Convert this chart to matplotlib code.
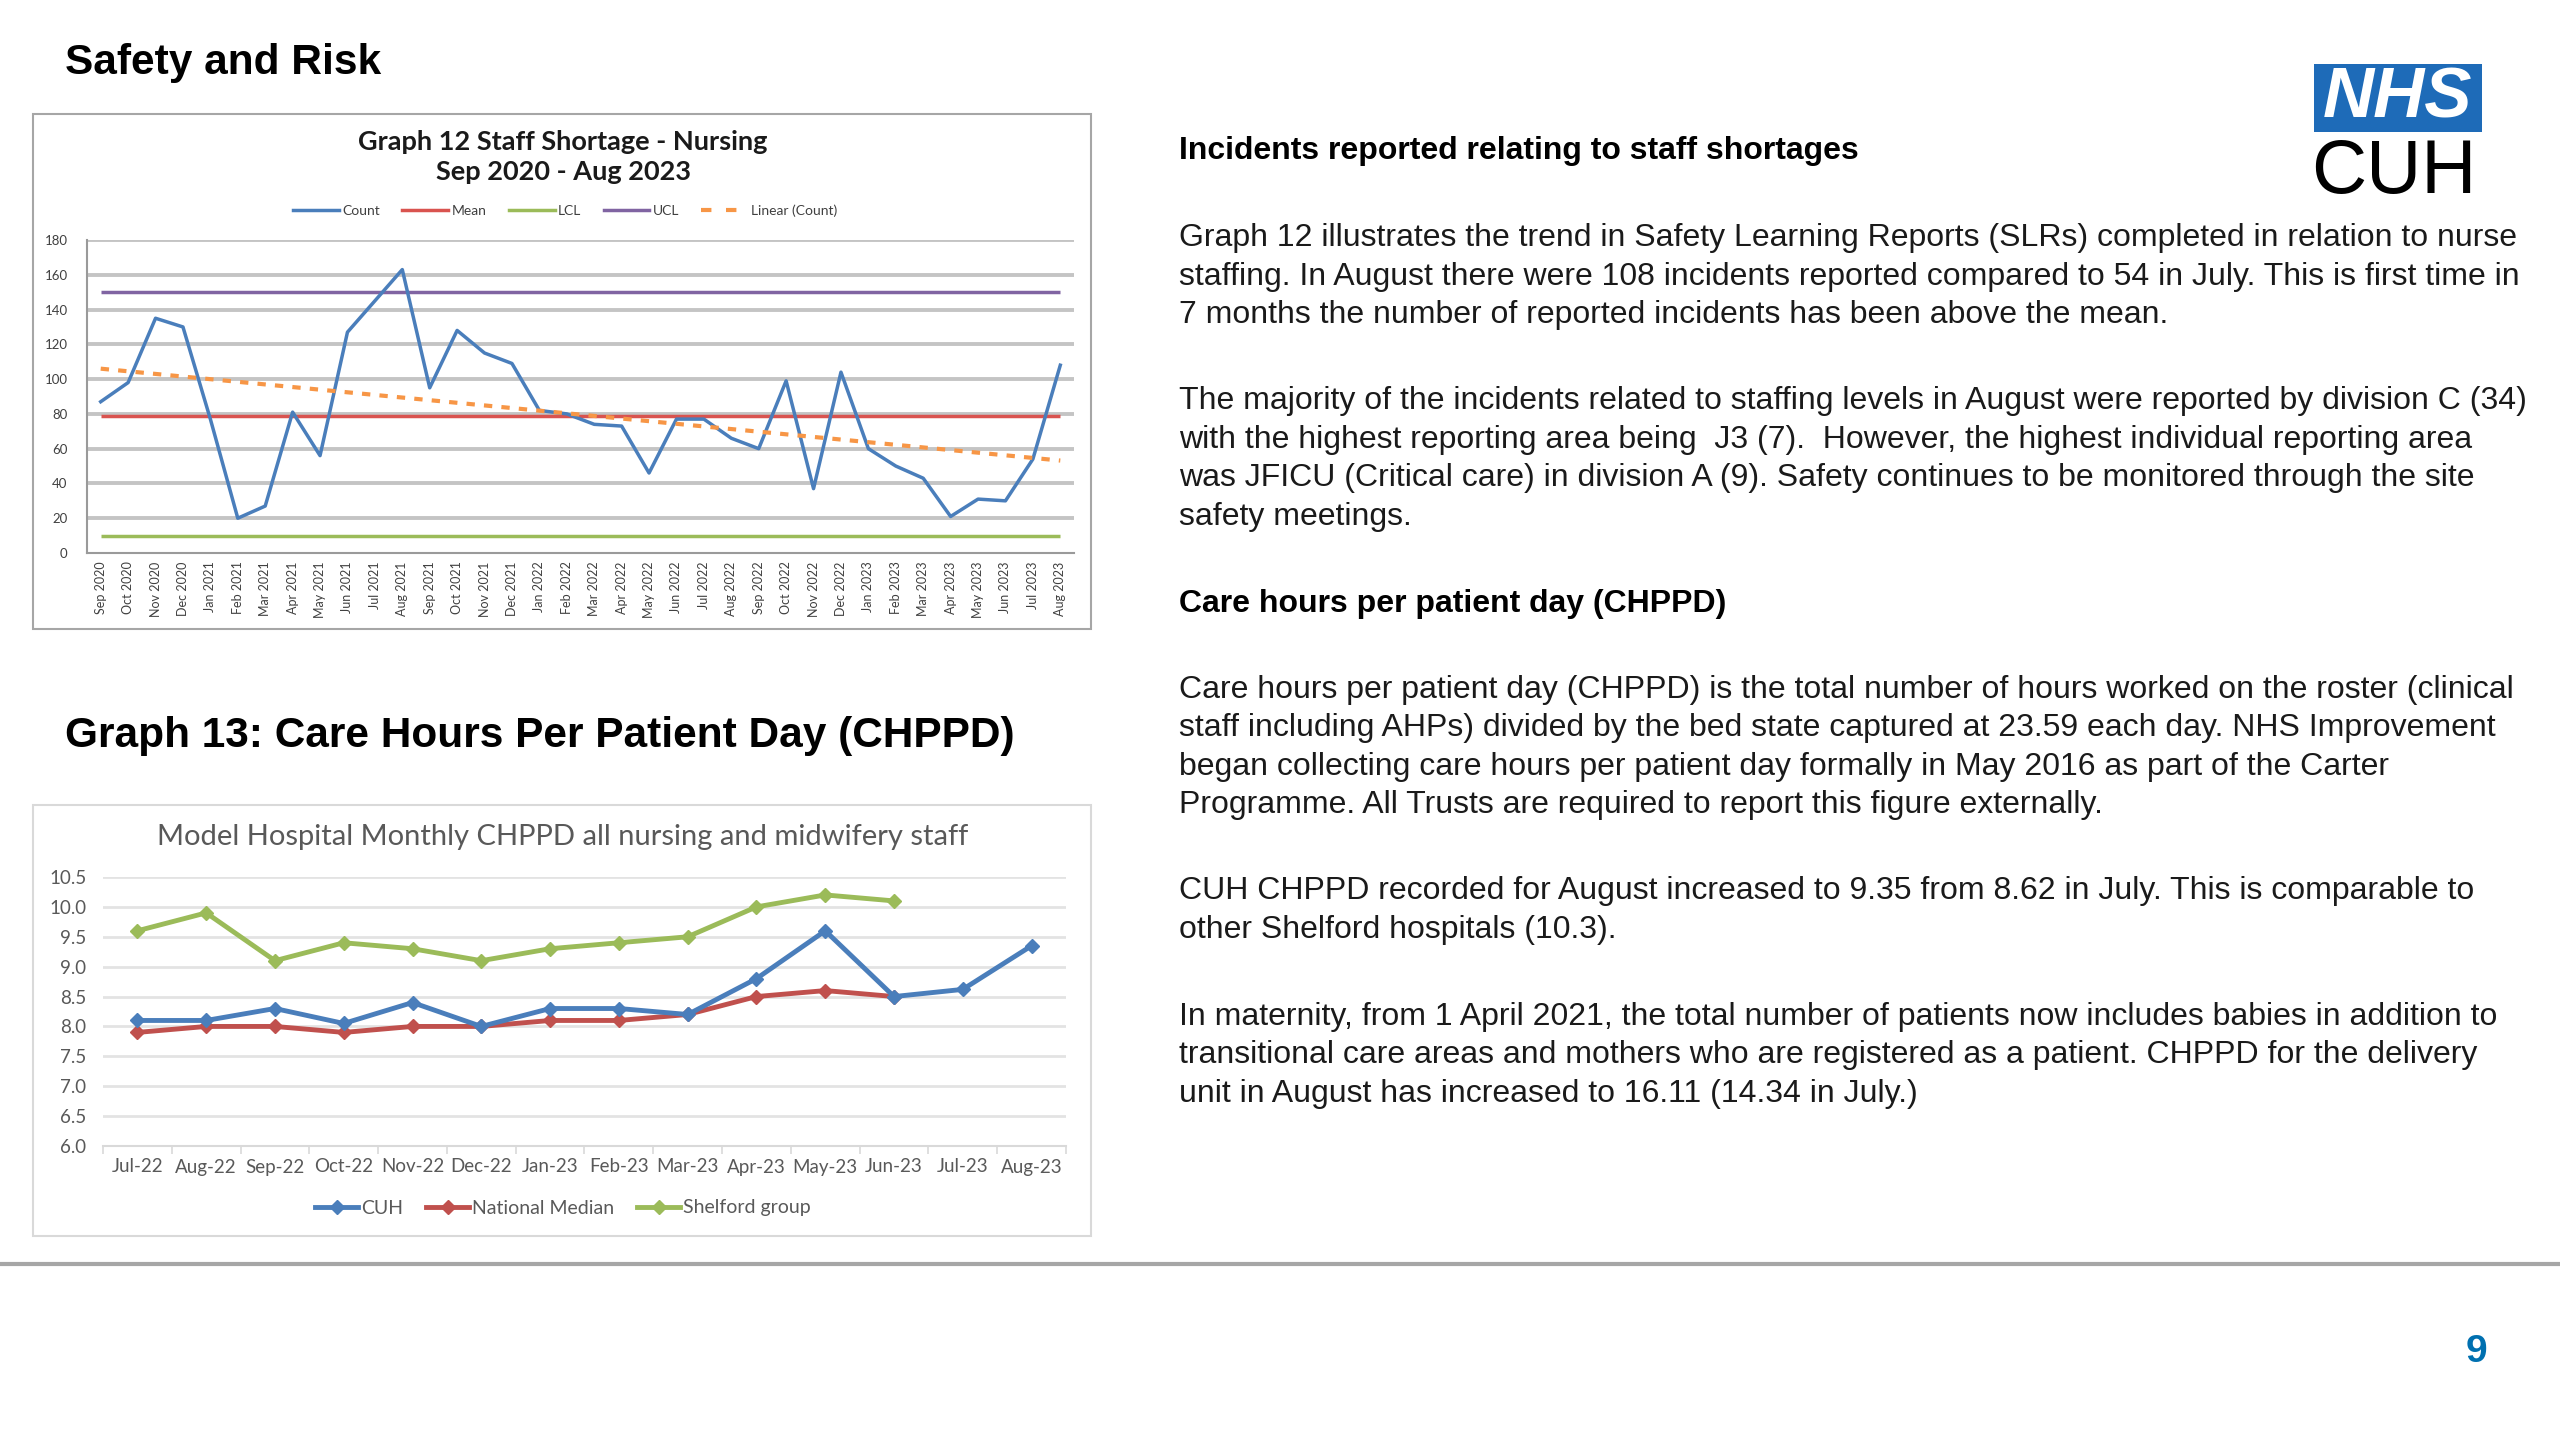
import numpy as np
import matplotlib
matplotlib.use("Agg")
import matplotlib.pyplot as plt
from matplotlib.patches import Rectangle
from matplotlib.lines import Line2D

# ---------------- data ----------------
months12 = ["Sep 2020", "Oct 2020", "Nov 2020", "Dec 2020", "Jan 2021", "Feb 2021", "Mar 2021",
            "Apr 2021", "May 2021", "Jun 2021", "Jul 2021", "Aug 2021", "Sep 2021", "Oct 2021",
            "Nov 2021", "Dec 2021", "Jan 2022", "Feb 2022", "Mar 2022", "Apr 2022", "May 2022",
            "Jun 2022", "Jul 2022", "Aug 2022", "Sep 2022", "Oct 2022", "Nov 2022", "Dec 2022",
            "Jan 2023", "Feb 2023", "Mar 2023", "Apr 2023", "May 2023", "Jun 2023", "Jul 2023",
            "Aug 2023"]
count = [87, 98, 135, 130, 77, 20, 27, 81, 56, 127, 145, 163,
         95, 128, 115, 109, 82, 80, 74, 73, 46, 77, 77, 66,
         60, 99, 37, 104, 60, 50, 43, 21, 31, 30, 54, 108]
mean_val = 79
ucl_val = 150
lcl_val = 10
yticks12 = [0, 20, 40, 60, 80, 100, 120, 140, 160, 180]

months13 = ["Jul-22", "Aug-22", "Sep-22", "Oct-22", "Nov-22", "Dec-22", "Jan-23",
            "Feb-23", "Mar-23", "Apr-23", "May-23", "Jun-23", "Jul-23", "Aug-23"]
cuh = [8.1, 8.1, 8.3, 8.05, 8.4, 8.0, 8.3, 8.3, 8.2, 8.8, 9.6, 8.5, 8.62, 9.35]
national_median = [7.9, 8.0, 8.0, 7.9, 8.0, 8.0, 8.1, 8.1, 8.2, 8.5, 8.6, 8.5]
shelford = [9.6, 9.9, 9.1, 9.4, 9.3, 9.1, 9.3, 9.4, 9.5, 10.0, 10.2, 10.1]
yticks13 = [6.0, 6.5, 7.0, 7.5, 8.0, 8.5, 9.0, 9.5, 10.0, 10.5]

# ---------------- figure ----------------
W, H = 2560, 1440
fig = plt.figure(figsize=(W / 100, H / 100), dpi=100)
fig.patch.set_facecolor("white")

def fx(x):
    return x / W

def fy(y):
    return 1 - y / H

def axes_px(l, t, r, b):
    return fig.add_axes([fx(l), fy(b), (r - l) / W, (b - t) / H])

SANS = ["Liberation Sans", "DejaVu Sans"]
NARROW = ["Liberation Sans Narrow", "Liberation Sans", "DejaVu Sans"]
CHART = ["Lato", "DejaVu Sans"]

# page headings
fig.text(fx(65), fy(63), "Safety and Risk", family=SANS, weight="bold", fontsize=30.5,
         ha="left", va="center", color="black")
fig.text(fx(65), fy(736), "Graph 13: Care Hours Per Patient Day (CHPPD)", family=SANS,
         weight="bold", fontsize=30.5, ha="left", va="center", color="black")

# ---------------- Graph 12 ----------------
fig.add_artist(Rectangle((fx(33), fy(629)), (1091 - 33) / W, (629 - 114) / H,
                         transform=fig.transFigure, fill=False, edgecolor="#A6A6A6", lw=1.5))
fig.text(fx(563), fy(157), "Graph 12 Staff Shortage - Nursing\nSep 2020 - Aug 2023",
         family=CHART, weight="bold", fontsize=19.5, ha="center", va="center",
         color="#1a1a1a", linespacing=1.25)

ax = axes_px(87, 240, 1074, 553)
x12 = np.arange(len(count))
for v in yticks12[1:]:
    ax.axhline(v, color="#C4C4C4", lw=2.8, zorder=1)
ax.plot(x12, count, color="#4A7EBB", lw=2.5, zorder=4, label="Count")
ax.hlines(mean_val, x12[0], x12[-1], color="#D9534F", lw=2.5, zorder=3, label="Mean")
ax.hlines(lcl_val, x12[0], x12[-1], color="#9BBB59", lw=2.5, zorder=3, label="LCL")
ax.hlines(ucl_val, x12[0], x12[-1], color="#8064A2", lw=2.5, zorder=3, label="UCL")
coef = np.polyfit(x12, count, 1)
trend = np.polyval(coef, x12)
ax.plot(x12, trend, color="#F79646", lw=3, ls=(0, (2, 2.2)), zorder=5, label="Linear (Count)")
ax.set_xlim(-0.5, len(count) - 0.5)
ax.set_ylim(0, 180)
ax.set_yticks(yticks12)
ax.set_yticklabels([str(v) for v in yticks12], family=CHART, fontsize=9.5, color="#404040")
ax.set_xticks(x12)
ax.set_xticklabels(months12, rotation=90, family=CHART, fontsize=9, color="#404040")
ax.tick_params(axis="y", length=0, pad=14)
ax.tick_params(axis="x", length=0, pad=6)
for s in ["top", "right"]:
    ax.spines[s].set_visible(False)
for s in ["left", "bottom"]:
    ax.spines[s].set_color("#9A9A9A")
    ax.spines[s].set_linewidth(1.5)
ax.set_facecolor("white")

handles12 = [Line2D([], [], color="#4A7EBB", lw=2.5),
             Line2D([], [], color="#D9534F", lw=2.5),
             Line2D([], [], color="#9BBB59", lw=2.5),
             Line2D([], [], color="#8064A2", lw=2.5),
             Line2D([], [], color="#F79646", lw=3, ls=(0, (2.5, 3.5)))]
fig.legend(handles12, ["Count", "Mean", "LCL", "UCL", "Linear (Count)"],
           loc="center", bbox_to_anchor=(fx(565), fy(211)), ncol=5, frameon=False,
           prop={"family": CHART, "size": 10}, handlelength=3.3, columnspacing=1.6,
           handletextpad=0.25, labelcolor="#404040")

# ---------------- Graph 13 ----------------
fig.add_artist(Rectangle((fx(33), fy(1236)), (1091 - 33) / W, (1236 - 805) / H,
                         transform=fig.transFigure, fill=False, edgecolor="#D9D9D9", lw=1.5))
fig.text(fx(563), fy(837), "Model Hospital Monthly CHPPD all nursing and midwifery staff",
         family=CHART, fontsize=21, ha="center", va="center", color="#595959")

ax2 = axes_px(103, 877, 1066, 1146)
x13 = np.arange(len(months13))
for v in yticks13[1:]:
    ax2.axhline(v, color="#E3E3E3", lw=2, zorder=1)
blue, red, green = "#4A7EBB", "#C0504D", "#9BBB59"
ax2.plot(x13[:len(cuh)], cuh, color=blue, lw=3.5, marker="D", ms=7, zorder=4)
ax2.plot(x13[:len(national_median)], national_median, color=red, lw=3.5, marker="D", ms=7,
         zorder=3)
ax2.plot(x13[:len(shelford)], shelford, color=green, lw=3.5, marker="D", ms=7, zorder=3)
ax2.set_xlim(-0.5, len(months13) - 0.5)
ax2.set_ylim(6.0, 10.5)
ax2.set_yticks(yticks13)
ax2.set_yticklabels([f"{v:.1f}" for v in yticks13], family=CHART, fontsize=13.5,
                    color="#595959")
ax2.set_xticks(x13)
ax2.set_xticklabels(months13, family=CHART, fontsize=13.5, color="#595959")
ax2.set_xticks(np.arange(-0.5, len(months13)), minor=True)
ax2.tick_params(axis="y", length=0, pad=12)
ax2.tick_params(axis="x", which="major", length=0, pad=9)
ax2.tick_params(axis="x", which="minor", length=6, color="#D9D9D9", width=1.2)
for s in ["top", "right", "left"]:
    ax2.spines[s].set_visible(False)
ax2.spines["bottom"].set_color("#D9D9D9")
ax2.spines["bottom"].set_linewidth(1.5)

handles13 = [Line2D([], [], color=blue, lw=3.5, marker="D", ms=7),
             Line2D([], [], color=red, lw=3.5, marker="D", ms=7),
             Line2D([], [], color=green, lw=3.5, marker="D", ms=7)]
fig.legend(handles13, ["CUH", "National Median", "Shelford group"], loc="center",
           bbox_to_anchor=(fx(563), fy(1208)), ncol=3, frameon=False,
           prop={"family": CHART, "size": 14}, handlelength=2.2, columnspacing=1.2,
           handletextpad=0.15, labelcolor="#595959")

# ---------------- right-hand text ----------------
TX = 1179
DY = 3
heads = [(148, "Incidents reported relating to staff shortages"),
         (601, "Care hours per patient day (CHPPD)")]
for y, t in heads:
    fig.text(fx(TX), fy(y + DY), t, family=SANS, weight="bold", fontsize=23, ha="left",
             va="center", color="black")

body = [
    (235, "Graph 12 illustrates the trend in Safety Learning Reports (SLRs) completed in relation to nurse"),
    (274, "staffing. In August there were 108 incidents reported compared to 54 in July. This is first time in"),
    (312, "7 months the number of reported incidents has been above the mean."),
    (398, "The majority of the incidents related to staffing levels in August were reported by division C (34)"),
    (437, "with the highest reporting area being  J3 (7).  However, the highest individual reporting area"),
    (475, "was JFICU (Critical care) in division A (9). Safety continues to be monitored through the site"),
    (514, "safety meetings."),
    (687, "Care hours per patient day (CHPPD) is the total number of hours worked on the roster (clinical"),
    (725, "staff including AHPs) divided by the bed state captured at 23.59 each day. NHS Improvement"),
    (764, "began collecting care hours per patient day formally in May 2016 as part of the Carter"),
    (802, "Programme. All Trusts are required to report this figure externally."),
    (888, "CUH CHPPD recorded for August increased to 9.35 from 8.62 in July. This is comparable to"),
    (927, "other Shelford hospitals (10.3)."),
    (1014, "In maternity, from 1 April 2021, the total number of patients now includes babies in addition to"),
    (1052, "transitional care areas and mothers who are registered as a patient. CHPPD for the delivery"),
    (1091, "unit in August has increased to 16.11 (14.34 in July.)"),
]
for y, t in body:
    fig.text(fx(TX), fy(y + DY), t, family=SANS, fontsize=23, ha="left", va="center",
             color="#1a1a1a")

# ---------------- logo ----------------
fig.add_artist(Rectangle((fx(2314), fy(132)), (2482 - 2314) / W, (132 - 64) / H,
                         transform=fig.transFigure, facecolor="#1E6BB8", edgecolor="none"))
fig.text(fx(2397), fy(99), "NHS", family=SANS, weight="bold", style="italic", fontsize=51,
         color="white", ha="center", va="center")
fig.text(fx(2394), fy(173), "CUH", family=NARROW, fontsize=55,
         color="black", ha="center", va="center")

# ---------------- footer ----------------
fig.add_artist(Line2D([0, 1], [fy(1264), fy(1264)], transform=fig.transFigure,
                      color="#A6A6A6", lw=3))
fig.text(fx(2476), fy(1352), "9", family=SANS, weight="bold", fontsize=28,
         color="#0070B0", ha="center", va="center")

fig.savefig("out.png", dpi=100, facecolor="white")
